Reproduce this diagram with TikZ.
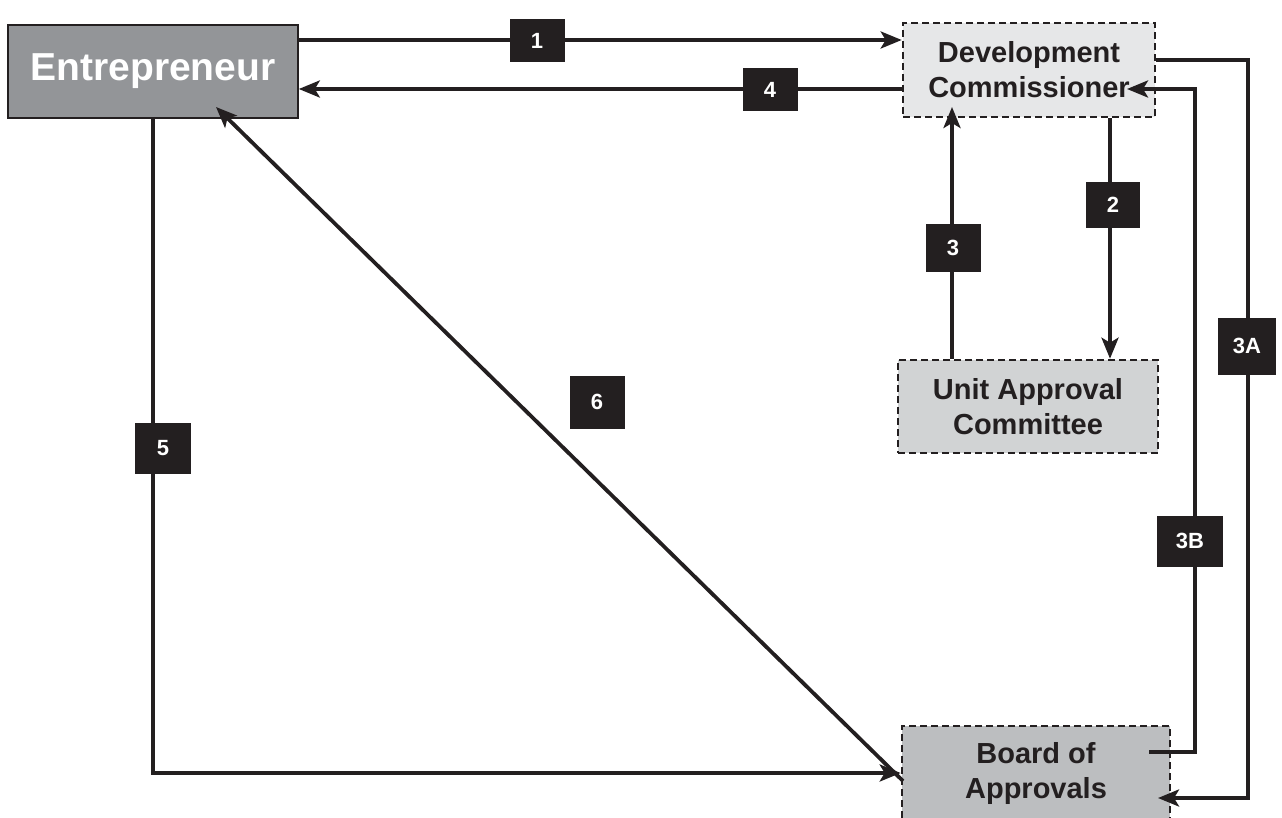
\documentclass[tikz,border=0pt]{standalone}
\usepackage{fontspec}
\setmainfont{Liberation Sans}
\usetikzlibrary{arrows.meta}

\definecolor{ink}{HTML}{231F20}
\definecolor{entfill}{HTML}{939598}
\definecolor{dcfill}{HTML}{E6E7E8}
\definecolor{uacfill}{HTML}{D1D3D4}
\definecolor{boafill}{HTML}{BCBEC0}

\tikzset{
  flow/.style={draw=ink, line width=3.8pt, line join=miter,
    -{Stealth[length=21pt,width=17pt,inset=5pt]}},
  dashbox/.style={draw=ink, line width=2.6pt, dash pattern=on 7pt off 4pt,
    align=center, inner sep=0pt, text=ink,
    font=\bfseries\fontsize{29}{35}\selectfont},
  tag/.style={fill=ink, text=white, inner sep=0pt,
    font=\bfseries\fontsize{22}{24}\selectfont},
}

\begin{document}
\begin{tikzpicture}[x=1pt, y=-1pt]
  \clip (0,0) rectangle (1282,818);
  \useasboundingbox (0,0) rectangle (1282,818);

  % the four parties
  \node (ent) [draw=ink, line width=1.6pt, fill=entfill, text=white, inner sep=0pt,
    minimum width=290pt, minimum height=93pt,
    font=\bfseries\fontsize{39}{44}\selectfont] at (153,71.5) {Entrepreneur};
  \node (dc) [dashbox, fill=dcfill, minimum width=252pt, minimum height=94pt]
    at (1029,70) {Development\\Commissioner};
  \node (uac) [dashbox, fill=uacfill, minimum width=260pt, minimum height=93pt]
    at (1028,406.5) {Unit Approval\\Committee};
  \node (boa) [dashbox, fill=boafill, minimum width=268pt, minimum height=94pt]
    at (1036,773) {Board of\\Approvals};

  % end points that sit inside the boxes
  \coordinate (dcin3) at (952,107);
  \coordinate (dcin3b) at (1127,89);
  \coordinate (boain3a) at (1158,798);
  \coordinate (boaout3b) at (1149,752);
  \coordinate (entin6) at (216,107);
  \coordinate (boaout6) at (903,781);

  % connectors
  \draw[flow] (ent.east |- 0,40) -- (dc.west |- 0,40);
  \draw[flow] (dc.west |- 0,89) -- (ent.east |- 0,89);
  \draw[flow] (dc.south -| 1110,0) -- (uac.north -| 1110,0);
  \draw[flow] (uac.north -| 952,0) -- (dcin3);
  \draw[flow] (dc.east |- 0,60) -- (1248,60) -- (1248,798) -- (boain3a);
  \draw[flow] (boaout3b) -- (1195,752) -- (1195,89) -- (dcin3b);
  \draw[flow] (ent.south -| 153,0) -- (153,773) -- (boa.west |- 0,773);
  \draw[flow] (boaout6) -- (entin6);

  % step numbers
  \node (t1) [tag, minimum width=55pt, minimum height=43pt] at (537,41) {1};
  \node (t4) [tag, minimum width=55pt, minimum height=43pt] at (770,90) {4};
  \node (t2) [tag, minimum width=54pt, minimum height=46pt] at (1113,205) {2};
  \node (t3) [tag, minimum width=55pt, minimum height=48pt] at (953,248) {3};
  \node (t3a) [tag, minimum width=58pt, minimum height=57pt] at (1247,346) {3A};
  \node (t3b) [tag, minimum width=66pt, minimum height=51pt] at (1190,541) {3B};
  \node (t5) [tag, minimum width=56pt, minimum height=51pt] at (163,448) {5};
  \node (t6) [tag, minimum width=55pt, minimum height=53pt] at (597,402) {6};
\end{tikzpicture}
\end{document}
